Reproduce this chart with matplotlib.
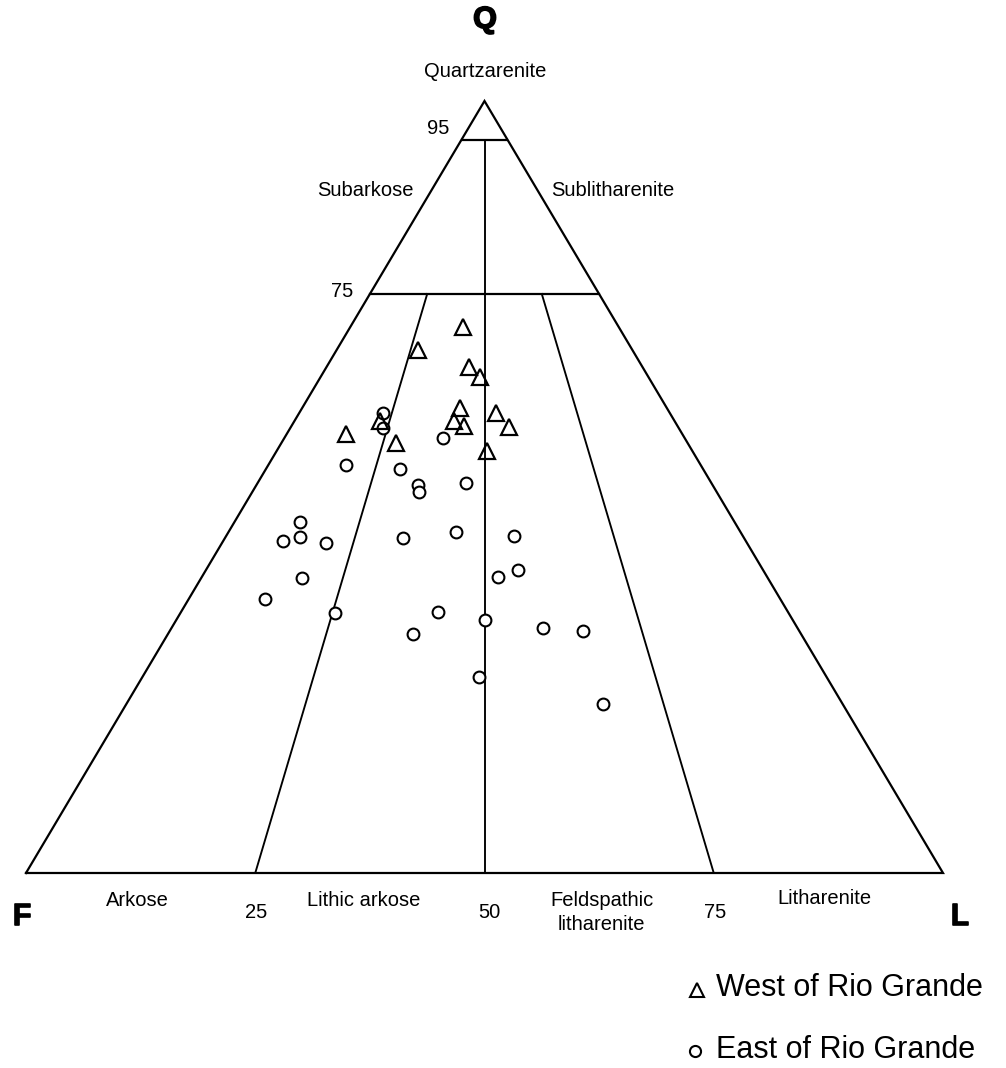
import matplotlib
matplotlib.use("Agg")
import matplotlib.pyplot as plt
import matplotlib.patheffects as pe
import numpy as np

plt.rcParams["font.family"] = ["Liberation Sans", "DejaVu Sans"]

# QFL percentages
west_Q = [70.7, 67.8, 65.5, 64.2, 60.2, 59.6, 58.6, 57.9, 57.8, 56.9, 55.7, 54.7, 58.5]
west_F = [17.0, 23.3, 18.9, 18.4, 22.6, 19.0, 24.0, 23.3, 18.4, 36.6, 31.8, 22.4, 32.1]
west_L = [12.3, 8.9, 15.6, 17.4, 17.2, 21.4, 17.4, 18.8, 23.8, 6.5, 12.5, 22.9, 9.4]

east_Q = [59.6, 57.6, 56.4, 52.9, 52.3, 50.3, 49.4, 50.5, 45.5, 43.0, 43.5, 42.8, 43.4,
          44.2, 43.7, 38.2, 38.4, 39.2, 35.5, 33.7, 33.8, 30.9, 32.8, 31.8, 31.3, 25.4, 21.9]
east_F = [31.3, 32.3, 26.3, 38.6, 33.1, 32.1, 32.4, 26.8, 47.4, 50.5, 48.4, 45.9, 37.2,
          31.0, 24.9, 50.8, 29.3, 26.7, 56.2, 49.4, 38.2, 42.4, 33.6, 27.7, 23.6, 37.9, 26.1]
east_L = [9.1, 10.1, 17.3, 8.5, 14.6, 17.6, 18.2, 22.7, 7.1, 6.5, 8.1, 11.3, 19.4,
          24.8, 31.4, 11.0, 32.3, 34.1, 8.3, 16.9, 28.0, 26.7, 33.6, 40.5, 45.1, 36.7, 52.0]

# Folk classification boundaries
q_levels = [95, 75]
fl_splits = [0.25, 0.5, 0.75]


def to_xy(q, f, l):
    q, f, l = np.asarray(q, float), np.asarray(f, float), np.asarray(l, float)
    s = q + f + l
    q, l = q / s * 100, l / s * 100
    return l + q / 2, q


W, H = 1006, 1068
fig = plt.figure(figsize=(W / 100, H / 100), dpi=100)
left, right, base, apex = 26, 943, 873, 101
ax = fig.add_axes([left / W, (H - base) / H, (right - left) / W, (base - apex) / H])
ax.set_xlim(0, 100)
ax.set_ylim(0, 100)
ax.axis("off")

lw = 1.6
ax.plot([0, 100, 50, 0], [0, 0, 100, 0], color="black", lw=lw, clip_on=False,
        solid_joinstyle="miter")
for q in q_levels:
    x0, y0 = to_xy(q, 100 - q, 0)
    x1, y1 = to_xy(q, 0, 100 - q)
    ax.plot([x0, x1], [y0, y1], color="black", lw=lw)
# radial split lines from the 75 line to the base (95 line for the middle one)
for r in fl_splits:
    qtop = 95 if r == 0.5 else 75
    xa, ya = to_xy(qtop, (100 - qtop) * (1 - r), (100 - qtop) * r)
    xb, yb = to_xy(0, 100 * (1 - r), 100 * r)
    ax.plot([xa, xb], [ya, yb], color="black", lw=lw * 0.85)

wx, wy = to_xy(west_Q, west_F, west_L)
ex, ey = to_xy(east_Q, east_F, east_L)
ax.plot(ex, ey, "o", ms=8.5, mfc="white", mec="black", mew=1.5, ls="none", zorder=3)
ax.plot(wx, wy, "^", ms=11, mfc="none", mec="black", mew=1.6, ls="none", zorder=4)


def ftext(px, py, s, **kw):
    fig.text(px / W, 1 - py / H, s, **kw)


lab = dict(fontsize=14.5, ha="center", va="center")
big = dict(fontsize=22, fontweight="bold", ha="center", va="center",
           path_effects=[pe.withStroke(linewidth=1.2, foreground="black")])

ftext(485, 20, "Q", **big)
ftext(485, 72, "Quartzarenite", **lab)
ftext(438, 128, "95", **lab)
ftext(365, 190, "Subarkose", **lab)
ftext(613, 190, "Sublitharenite", **lab)
ftext(342, 291, "75", **lab)

ftext(22, 917, "F", **big)
ftext(137, 901, "Arkose", **lab)
ftext(256, 912, "25", **lab)
ftext(364, 900, "Lithic arkose", **lab)
ftext(489, 912, "50", **lab)
ftext(602, 900, "Feldspathic", **lab)
ftext(601, 925, "litharenite", **lab)
ftext(715, 912, "75", **lab)
ftext(824, 898, "Litharenite", **lab)
ftext(960, 917, "L", **big)

# legend
fig.lines.append(plt.Line2D([697 / W], [1 - 990 / H], marker="^", ms=10, mfc="none",
                            mec="black", mew=1.5, transform=fig.transFigure, figure=fig))
fig.lines.append(plt.Line2D([695 / W], [1 - 1051 / H], marker="o", ms=8, mfc="none",
                            mec="black", mew=1.5, transform=fig.transFigure, figure=fig))
ftext(716, 988, "West of Rio Grande", fontsize=22, ha="left", va="center")
ftext(716, 1050, "East of Rio Grande", fontsize=22, ha="left", va="center")

fig.savefig("out.png", dpi=100)
